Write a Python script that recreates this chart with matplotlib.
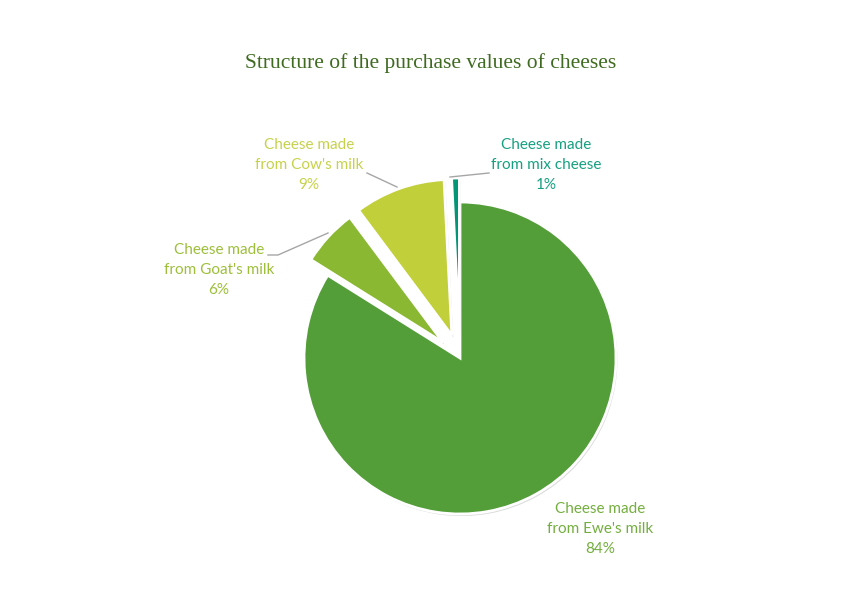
import matplotlib
matplotlib.use("Agg")
import matplotlib.pyplot as plt
import matplotlib.patheffects as pe

# data
categories = ["Cheese made\nfrom Ewe's milk", "Cheese made\nfrom Goat's milk",
              "Cheese made\nfrom Cow's milk", "Cheese made\nfrom mix cheese"]
shares = [83.9, 5.9, 9.4, 0.8]

slice_colors = ["#549E39", "#8AB833", "#C0CF3A", "#029676"]
label_colors = ["#74AE3E", "#9DBF3A", "#C6D24A", "#17A080"]

W, H = 860, 600
def py(y):
    # pixel row (from top) -> data y (from bottom)
    return H - y

fig = plt.figure(figsize=(8.6, 6), dpi=100)
ax = fig.add_axes([0, 0, 1, 1])

explode = [0, 23, 24, 24]
wedges, _ = ax.pie(shares, colors=slice_colors, explode=explode,
                   startangle=90, counterclock=False,
                   center=(460, py(358)), radius=156,
                   wedgeprops=dict(edgecolor="white", linewidth=2))
for w in wedges:
    w.set_path_effects([pe.SimplePatchShadow(offset=(1, -1.5), shadow_rgbFace="k", alpha=0.14),
                        pe.Normal()])

ax.set_xlim(0, W)
ax.set_ylim(0, H)
ax.set_aspect("equal")
ax.axis("off")

# label positions (pixels from top-left) and leader lines
label_pos = [(600, 529), (219, 270), (309, 165), (546, 165)]
leaders = [None,
           [(268, 255), (278, 255), (328, 233)],
           [(367, 173), (397, 187)],
           [(489, 173), (450, 177)]]

for name, v, (lx, ly), col, ld in zip(categories, shares, label_pos, label_colors, leaders):
    ax.text(lx, py(ly), f"{name}\n{v:.0f}%", ha="center", va="center",
            color=col, fontsize=11, family="Lato", linespacing=1.55)
    if ld:
        ax.plot([p[0] for p in ld], [py(p[1]) for p in ld], color="#A6A6A6", lw=1)

fig.text(431 / W, 1 - 63 / H, "Structure of the purchase values of cheeses",
         ha="center", va="center", fontsize=15.5, family="Liberation Serif", color="#3F6B20")

fig.savefig("out.png", dpi=100, facecolor="white")
